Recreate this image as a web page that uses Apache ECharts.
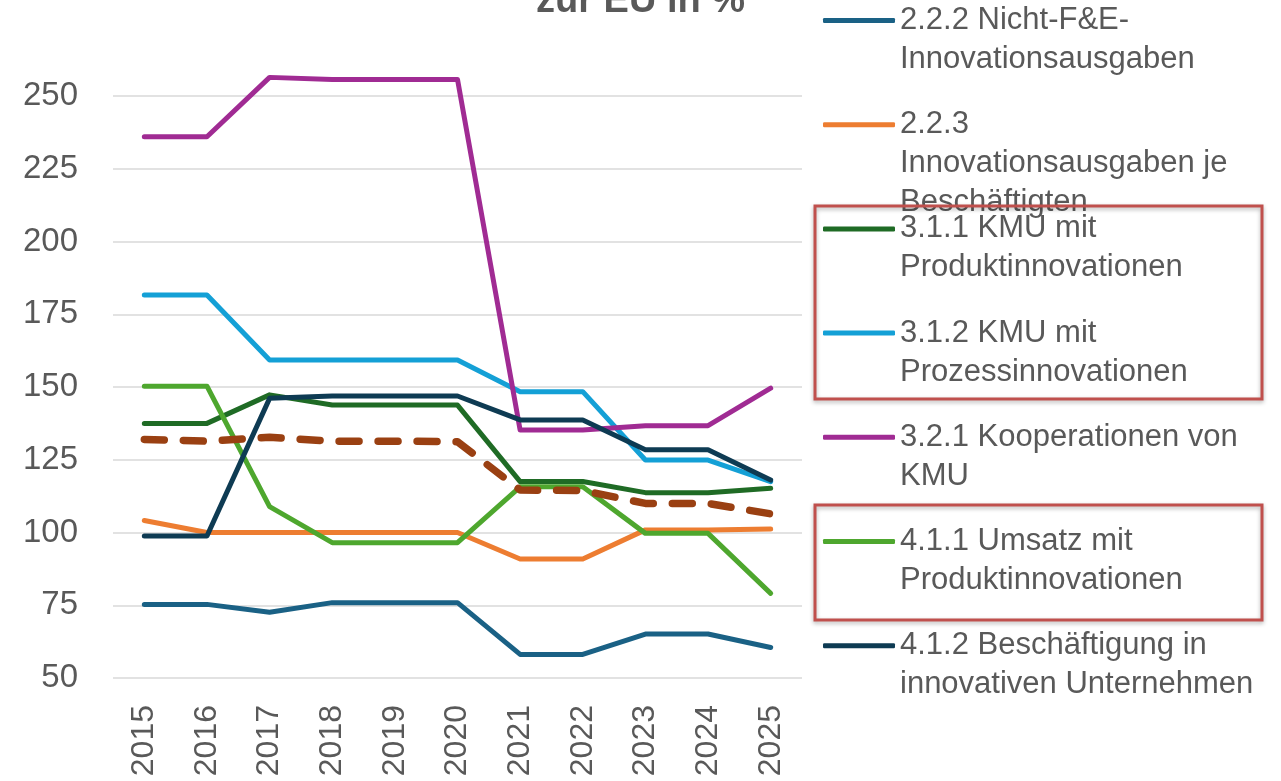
<!DOCTYPE html>
<html style="height: 100%">

<head>
    <meta charset="utf-8">
    <title>index</title>
    <style>
        html, body { margin: 0; padding: 0; background: #fff; }
        #container {
            width: 1281px;
            height: 781px;
        }
    </style>
</head>

<body>
    <div id="container"></div>
</body>
<script src="https://cdn.jsdelivr.net/npm/echarts@6/dist/echarts.min.js"></script>
<script type="text/javascript">
    // Jahre
    var years = ['2015', '2016', '2017', '2018', '2019', '2020', '2021', '2022', '2023', '2024', '2025'];

    // Werte relativ zur EU in %
    var nichtFuE = [75.3, 75.3, 72.6, 75.9, 75.9, 75.9, 58.1, 58.1, 65.1, 65.1, 60.5];
    var ausgabenJeBesch = [104.1, 100.0, 100.0, 100.0, 100.0, 100.0, 90.9, 90.9, 100.9, 100.9, 101.2];
    var kmuProdukt = [137.5, 137.5, 147.3, 143.8, 143.8, 143.8, 117.5, 117.5, 113.7, 113.7, 115.2];
    var kmuProzess = [181.6, 181.6, 159.3, 159.3, 159.3, 159.3, 148.4, 148.4, 124.9, 124.9, 117.5];
    var kooperationen = [236.0, 236.0, 256.4, 255.7, 255.7, 255.7, 135.2, 135.2, 136.7, 136.7, 149.6];
    var umsatz = [150.3, 150.3, 108.9, 96.5, 96.5, 96.5, 115.7, 115.7, 99.7, 99.7, 79.1];
    var beschaeftigung = [98.8, 98.8, 146.1, 146.9, 146.9, 146.9, 138.7, 138.7, 128.4, 128.4, 118.0];
    var gesamt = [132.0, 131.4, 132.7, 131.4, 131.4, 131.2, 114.6, 114.4, 110.0, 110.0, 106.4];

    var names = [
        '2.2.2 Nicht-F&E-Innovationsausgaben',
        '2.2.3 Innovationsausgaben je Beschäftigten',
        '3.1.1 KMU mit Produktinnovationen',
        '3.1.2 KMU mit Prozessinnovationen',
        '3.2.1 Kooperationen von KMU',
        '4.1.1 Umsatz mit Produktinnovationen',
        '4.1.2 Beschäftigung in innovativen Unternehmen'
    ];
    // Zeilenumbrüche wie in der Legende
    var legendLines = [
        ['2.2.2 Nicht-F&E-', 'Innovationsausgaben'],
        ['2.2.3', 'Innovationsausgaben je', 'Beschäftigten'],
        ['3.1.1 KMU mit', 'Produktinnovationen'],
        ['3.1.2 KMU mit', 'Prozessinnovationen'],
        ['3.2.1 Kooperationen von', 'KMU'],
        ['4.1.1 Umsatz mit', 'Produktinnovationen'],
        ['4.1.2 Beschäftigung in', 'innovativen Unternehmen']
    ];
    var values = [nichtFuE, ausgabenJeBesch, kmuProdukt, kmuProzess, kooperationen, umsatz, beschaeftigung];
    var colors = ['#1a6185', '#ed7d31', '#1f6b25', '#14a0d6', '#a02b93', '#4ea72e', '#0e3b53'];

    var dom = document.getElementById("container");
    var myChart = echarts.init(dom);

    var LINE_H = 39;
    var series = names.map(function (n, i) {
        return {
            name: n,
            type: 'line',
            data: values[i],
            symbol: 'none',
            clip: false,
            lineStyle: { width: 5, color: colors[i], cap: 'round', join: 'round' },
            itemStyle: { color: colors[i] }
        };
    });
    series.push({
        name: 'Gesamt',
        type: 'line',
        data: gesamt,
        symbol: 'none',
        lineStyle: { width: 7.5, color: '#9a4012', type: [20, 19], cap: 'round', join: 'round' },
        itemStyle: { color: '#9a4012' }
    });

    // eine Legende pro Eintrag, Linie auf Höhe der ersten Textzeile
    var legends = names.map(function (n, i) {
        var k = legendLines[i].length;
        var blockH = (2 * k - 1) * LINE_H;
        var center = 20.5 + i * 104.2;
        return {
            data: [n],
            orient: 'vertical',
            left: 823,
            top: center - blockH / 2,
            padding: 0,
            selectedMode: false,
            icon: 'roundRect',
            itemWidth: 72,
            itemHeight: 5,
            textStyle: {
                fontSize: 31,
                lineHeight: LINE_H,
                color: '#595959',
                fontFamily: 'Liberation Sans, Arial, sans-serif'
            },
            formatter: function () {
                var pad = '';
                for (var j = 1; j < k; j++) pad += '\n';
                return pad + legendLines[i].join('\n');
            }
        };
    });

    option = {
        backgroundColor: '#fff',
        animation: false,
        title: {
            text: 'zur EU in %',
            left: 'center',
            top: -17,
            padding: 0,
            textStyle: {
                fontSize: 38,
                fontWeight: 'bold',
                color: '#595959',
                fontFamily: 'Liberation Sans, Arial, sans-serif'
            }
        },
        legend: legends,
        grid: {
            left: 113,
            right: 479,
            top: 96,
            bottom: 103
        },
        xAxis: {
            type: 'category',
            data: years,
            boundaryGap: true,
            axisLine: { show: false },
            axisTick: { show: false },
            axisLabel: {
                rotate: 90,
                margin: 27,
                fontSize: 32,
                color: '#595959',
                fontFamily: 'Liberation Sans, Arial, sans-serif'
            }
        },
        yAxis: {
            type: 'value',
            min: 50,
            max: 250,
            interval: 25,
            axisLine: { show: false },
            axisTick: { show: false },
            axisLabel: {
                margin: 35,
                fontSize: 33,
                color: '#595959',
                fontFamily: 'Liberation Sans, Arial, sans-serif'
            },
            splitLine: { lineStyle: { color: '#d9d9d9', width: 1.5 } }
        },
        graphic: [{
            type: 'rect',
            z: 100,
            shape: { x: 815, y: 206, width: 447, height: 193 },
            style: { fill: null, stroke: '#c0504d', lineWidth: 3, shadowBlur: 4, shadowColor: 'rgba(0,0,0,0.3)', shadowOffsetY: 2 }
        }, {
            type: 'rect',
            z: 100,
            shape: { x: 815, y: 505, width: 447, height: 115 },
            style: { fill: null, stroke: '#c0504d', lineWidth: 3, shadowBlur: 4, shadowColor: 'rgba(0,0,0,0.3)', shadowOffsetY: 2 }
        }],
        series: series
    };
    if (option && typeof option === "object") {
        myChart.setOption(option, true);
    };
</script>

</html>
